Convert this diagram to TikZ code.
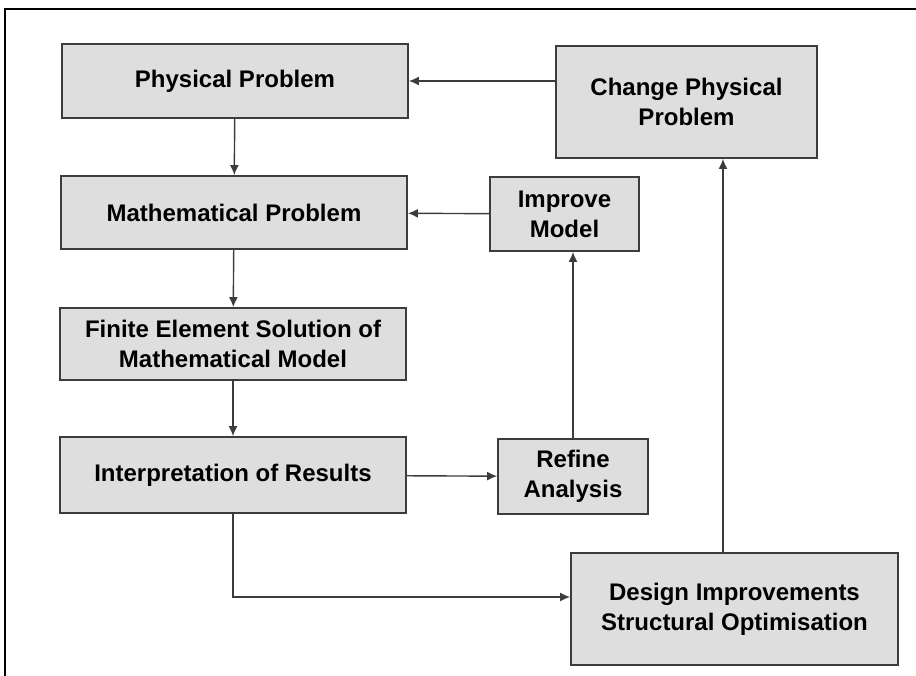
\documentclass[tikz,border=0pt]{standalone}
\usepackage{fontspec}
\setmainfont{Liberation Sans}
\usetikzlibrary{arrows.meta}
\definecolor{boxgray}{RGB}{222,222,222}
\definecolor{linegray}{RGB}{60,60,60}

\begin{document}
\begin{tikzpicture}[x=0.5pt,y=-0.5pt,
  box/.style={draw=linegray,line width=0.9pt,fill=boxgray,align=center,
    font=\fontsize{12}{15}\selectfont\bfseries,inner sep=2pt},
  flow/.style={draw=linegray,line width=0.7pt,-{Latex[length=5pt,width=4.5pt]}}]
\useasboundingbox (0,0) rectangle (916,675);
\draw[line width=1pt] (5,680) -- (5,9) -- (920,9);

\node [box,minimum width=173pt,minimum height=37pt] (phys) at (235,81) {Physical Problem};
\node [box,minimum width=173pt,minimum height=36.5pt] (math) at (234,212.5) {Mathematical Problem};
\node [box,minimum width=173pt,minimum height=36pt] (fem) at (233,344) {Finite Element Solution of\\Mathematical Model};
\node [box,minimum width=173pt,minimum height=38pt] (interp) at (233,475) {Interpretation of Results};
\node [box,minimum width=130.5pt,minimum height=56pt] (change) at (686.5,102) {Change Physical\\Problem};
\node [box,minimum width=74.5pt,minimum height=37pt] (improve) at (564.5,214) {Improve\\Model};
\node [box,minimum width=75pt,minimum height=37.5pt] (refine) at (573,476.5) {Refine\\Analysis};
\node [box,minimum width=163.5pt,minimum height=56pt] (design) at (734.5,609) {Design Improvements\\Structural Optimisation};

\coordinate (up) at (723,0);
\coordinate (turn) at (0,597);

\draw[flow] (phys) -- (math);
\draw[flow] (math) -- (fem);
\draw[flow] (fem) -- (interp);
\draw[flow] (interp) -- (refine);
\draw[flow] (refine.north) -- (improve.south -| refine.north);
\draw[flow] (improve) -- (math);
\draw[flow] (change.west |- phys) -- (phys);
\draw[flow] (interp.south) |- (design.west |- turn);
\draw[flow] (design.north -| up) -- (change.south -| up);
\end{tikzpicture}
\end{document}
